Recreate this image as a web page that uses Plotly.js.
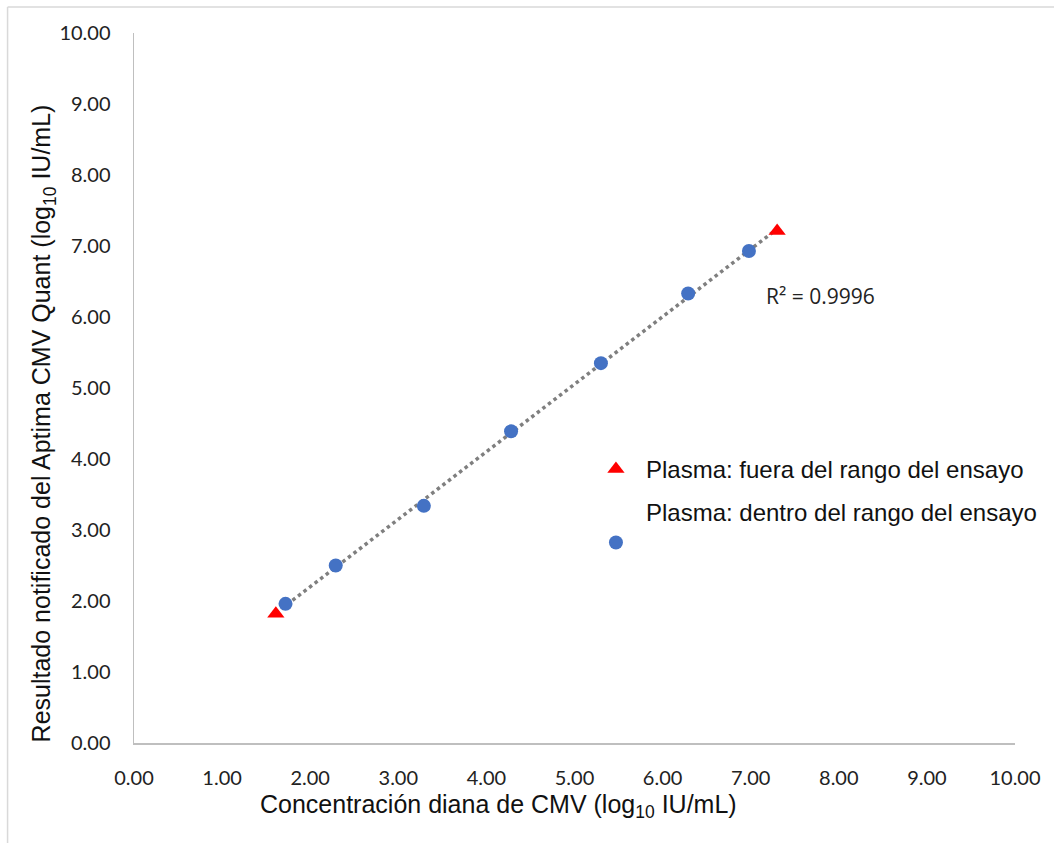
<!DOCTYPE html>
<html>
<head>
<meta charset="utf-8">
<script src="https://cdn.plot.ly/plotly-3.0.1.min.js"></script>
<style>html,body{margin:0;padding:0;background:#fff;}#chart{width:1054px;height:843px;}</style>
</head>
<body>
<div id="chart"></div>
<script>
// Data
const outX = [1.61, 7.30];
const outY = [1.82, 7.21];
const inX = [1.72, 2.29, 3.29, 4.28, 5.30, 6.29, 6.98];
const inY = [1.96, 2.50, 3.34, 4.39, 5.35, 6.33, 6.93];
const tickVals = [0,1,2,3,4,5,6,7,8,9,10];
const tickText = ["0.00","1.00","2.00","3.00","4.00","5.00","6.00","7.00","8.00","9.00","10.00"];
const outName = "Plasma: fuera del rango del ensayo";
const inName = "Plasma: dentro del rango del ensayo";
const r2Text = "R² = 0.9996";
const xTitle = 'Concentración diana de CMV (log<sub>10</sub> IU/mL)';
const yTitle = 'Resultado notificado del Aptima CMV Quant (log<sub>10</sub> IU/mL)';

// linear trendline from all points
const allX = outX.concat(inX), allY = outY.concat(inY);
const n = allX.length;
const mx = allX.reduce((a,b)=>a+b,0)/n, my = allY.reduce((a,b)=>a+b,0)/n;
let sxy=0,sxx=0;
for(let i=0;i<n;i++){sxy+=(allX[i]-mx)*(allY[i]-my);sxx+=(allX[i]-mx)**2;}
const slope=sxy/sxx, icpt=my-slope*mx;
const tx=[Math.min(...allX), Math.max(...allX)];
const ty=tx.map(v=>icpt+slope*v);

const traces = [
  {x:tx,y:ty,mode:'lines',line:{color:'#7F7F7F',width:3.5,dash:'dot'},showlegend:false,hoverinfo:'skip'},
  {x:inX,y:inY,mode:'markers',name:inName+'<br> ',legendgroup:'b',legendrank:2,
   marker:{symbol:'circle',size:14,color:'#4472C4'}},
  {x:outX,y:outY,mode:'markers',name:outName,legendgroup:'a',legendrank:1,
   marker:{symbol:'triangle-up',size:15,color:'#FF0000'}}
];

const axisCommon = {
  range:[0,10], tickvals:tickVals, ticktext:tickText, showgrid:false, zeroline:false,
  showline:true, linecolor:'#BFBFBF', linewidth:1.5, ticks:'',
  tickfont:{family:'Lato, "Open Sans", sans-serif', size:20, color:'#222'}
};

const titleFont = {family:'"Liberation Sans", Arial, sans-serif',size:25,color:'#111'};

const layout = {
  width:1054, height:843,
  margin:{l:134,r:35,t:33,b:100},
  paper_bgcolor:'#fff', plot_bgcolor:'#fff',
  xaxis:Object.assign({}, axisCommon, {ticklabelstandoff:16}),
  yaxis:Object.assign({}, axisCommon, {ticklabelstandoff:18}),
  showlegend:true,
  legend:{x:(588-134)/885, y:(743-447)/710, xanchor:'left', yanchor:'top',
    bgcolor:'rgba(0,0,0,0)', itemwidth:50, valign:'bottom', tracegroupgap:8,
    font:{family:'"Liberation Sans", Arial, sans-serif',size:24,color:'#111'}},
  annotations:[
    {text:r2Text, xref:'x', yref:'y', x:7.15, y:6.30, showarrow:false, xanchor:'left',
     font:{family:'"Open Sans", sans-serif',size:21,color:'#222'}},
    {text:xTitle, xref:'paper', yref:'paper', x:(500-134)/885, y:(743-806)/710,
     xanchor:'center', yanchor:'middle', showarrow:false, font:titleFont},
    {text:yTitle, xref:'paper', yref:'paper', x:(43-134)/885, y:(743-423)/710,
     xanchor:'center', yanchor:'middle', textangle:-90, showarrow:false, font:titleFont}
  ],
  shapes:[
    {type:'line',xref:'paper',yref:'paper',x0:(7-134)/885,x1:1.1,y0:(743-7)/710,y1:(743-7)/710,line:{color:'#D9D9D9',width:1.5}},
    {type:'line',xref:'paper',yref:'paper',x0:(7-134)/885,x1:(7-134)/885,y0:(743-7)/710,y1:-0.2,line:{color:'#D9D9D9',width:1.5}}
  ]
};

Plotly.newPlot('chart', traces, layout, {displayModeBar:false, staticPlot:true});
</script>
</body>
</html>
